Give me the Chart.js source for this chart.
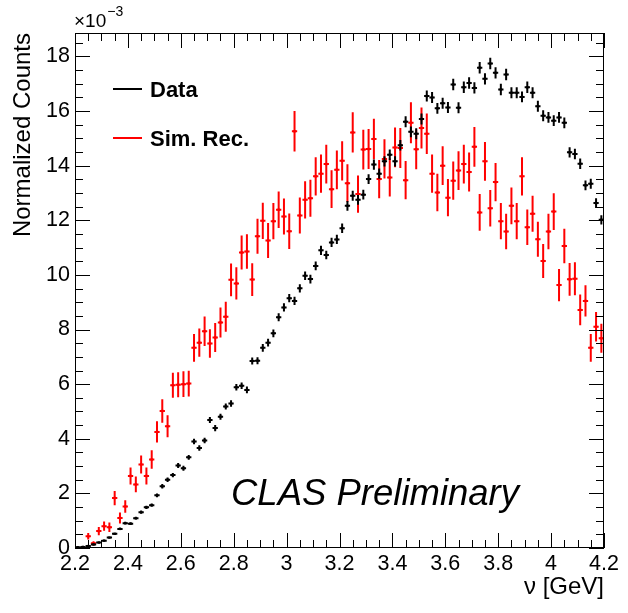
<!DOCTYPE html>
<html>
<head>
<meta charset="utf-8">
<script src="https://cdn.jsdelivr.net/npm/chart.js@4/dist/chart.umd.min.js"></script>
<style>
  html, body { margin: 0; padding: 0; background: #ffffff; }
  #c { display: block; }
</style>
</head>
<body>
<canvas id="c" width="628" height="613"></canvas>
<script>
// ---- bin centres (nu, GeV), 0.02 GeV bins from 2.2 to 4.2 ----
const nuBins = [
  2.21,2.23,2.25,2.27,2.29,2.31,2.33,2.35,2.37,2.39,
  2.41,2.43,2.45,2.47,2.49,2.51,2.53,2.55,2.57,2.59,
  2.61,2.63,2.65,2.67,2.69,2.71,2.73,2.75,2.77,2.79,
  2.81,2.83,2.85,2.87,2.89,2.91,2.93,2.95,2.97,2.99,
  3.01,3.03,3.05,3.07,3.09,3.11,3.13,3.15,3.17,3.19,
  3.21,3.23,3.25,3.27,3.29,3.31,3.33,3.35,3.37,3.39,
  3.41,3.43,3.45,3.47,3.49,3.51,3.53,3.55,3.57,3.59,
  3.61,3.63,3.65,3.67,3.69,3.71,3.73,3.75,3.77,3.79,
  3.81,3.83,3.85,3.87,3.89,3.91,3.93,3.95,3.97,3.99,
  4.01,4.03,4.05,4.07,4.09,4.11,4.13,4.15,4.17,4.19
];
const binHalfWidth = 0.01;

// ---- Data (x 10^-3) ----
const dataValues = [
  0.03,0.04,0.07,0.13,0.20,0.27,0.38,0.52,0.70,0.91,
  0.89,1.09,1.31,1.49,1.57,1.93,2.26,2.50,2.67,3.02,
  2.92,3.32,3.90,3.66,3.94,4.69,4.39,4.81,5.18,5.29,
  5.89,5.94,5.79,6.85,6.86,7.33,7.52,7.86,8.45,8.81,
  9.15,9.05,9.51,9.97,9.85,10.33,10.90,10.73,11.19,11.30,
  11.71,12.53,12.90,12.75,12.94,13.51,14.04,13.71,14.16,14.40,
  14.16,14.75,15.61,15.24,15.17,15.71,16.55,16.50,16.10,16.29,
  16.13,16.97,16.12,16.87,17.03,16.85,17.59,17.18,17.74,17.40,
  16.79,17.34,16.67,16.67,16.52,16.87,16.67,16.18,15.83,15.77,
  15.65,15.77,15.57,14.49,14.43,14.07,13.28,13.34,12.63,12.02
];
const dataErrors = [
  0.01,0.01,0.01,0.02,0.02,0.03,0.03,0.04,0.04,0.05,
  0.05,0.05,0.06,0.06,0.06,0.07,0.08,0.08,0.08,0.09,
  0.09,0.09,0.10,0.10,0.10,0.11,0.11,0.11,0.11,0.12,
  0.12,0.12,0.12,0.13,0.13,0.14,0.14,0.14,0.15,0.15,
  0.15,0.15,0.15,0.16,0.16,0.16,0.17,0.16,0.17,0.17,
  0.17,0.18,0.18,0.18,0.18,0.18,0.19,0.19,0.19,0.19,
  0.19,0.19,0.20,0.20,0.20,0.20,0.20,0.20,0.20,0.20,
  0.20,0.21,0.20,0.21,0.21,0.21,0.21,0.21,0.21,0.21,
  0.21,0.21,0.20,0.20,0.20,0.21,0.20,0.20,0.20,0.20,
  0.20,0.20,0.20,0.19,0.19,0.19,0.18,0.18,0.18,0.17
];

// ---- Sim. Rec. (x 10^-3) ----
const simValues = [
  null,null,0.43,0.17,0.62,0.80,0.76,1.83,1.10,1.52,
  2.64,2.33,3.06,2.64,3.24,4.25,5.02,4.46,5.96,5.98,
  6.00,6.02,7.33,7.52,7.94,7.49,7.71,8.26,8.47,9.82,
  9.69,10.82,10.86,9.83,11.42,11.98,11.26,11.97,12.39,12.14,
  11.60,15.26,12.18,12.75,12.81,13.61,13.71,14.06,13.14,13.85,
  14.18,13.36,15.22,12.96,14.59,14.61,14.98,13.51,14.25,13.57,
  14.67,14.65,13.47,15.57,14.60,15.38,15.17,13.71,13.02,14.00,
  12.83,13.45,13.82,14.06,13.77,14.69,12.29,14.16,12.44,13.40,
  11.97,11.59,12.53,11.97,13.61,11.75,12.24,11.31,10.51,11.59,
  12.32,9.63,11.06,9.84,9.86,8.72,9.05,7.33,8.10,7.68
];
const simErrors = [
  null,null,0.12,0.08,0.15,0.17,0.17,0.26,0.20,0.23,
  0.31,0.29,0.33,0.31,0.34,0.39,0.43,0.40,0.46,0.46,
  0.47,0.47,0.51,0.52,0.54,0.52,0.53,0.55,0.55,0.60,
  0.59,0.62,0.63,0.60,0.64,0.66,0.64,0.66,0.67,0.66,
  0.65,0.74,0.66,0.68,0.68,0.70,0.70,0.71,0.69,0.71,
  0.72,0.69,0.74,0.68,0.73,0.73,0.74,0.70,0.72,0.70,
  0.73,0.73,0.70,0.75,0.73,0.75,0.74,0.70,0.69,0.71,
  0.68,0.70,0.71,0.71,0.71,0.73,0.67,0.71,0.67,0.70,
  0.66,0.65,0.67,0.66,0.70,0.65,0.66,0.64,0.62,0.65,
  0.67,0.59,0.63,0.60,0.60,0.56,0.57,0.51,0.54,0.53
];

// ---- axis settings ----
const xMin = 2.2, xMax = 4.2, xMajor = 0.2, xMinor = 0.05;
const yMin = 0, yMax = 18.86, yMajor = 2, yMinor = 0.5;
const yTickLabels = [0,2,4,6,8,10,12,14,16,18];

const FONT = '"Liberation Sans", Arial, Helvetica, sans-serif';

function toPoints(vals) {
  return nuBins.map((x, i) => ({ x: x, y: vals[i] }));
}

const errorBarPlugin = {
  id: 'errorBars',
  beforeDatasetDraw(chart, args) {
    const ds = chart.data.datasets[args.index];
    const errs = ds.errors;
    if (!errs) return;
    const xs = chart.scales.x, ys = chart.scales.y;
    const ctx = chart.ctx;
    ctx.save();
    ctx.beginPath();
    ctx.rect(chart.chartArea.left, chart.chartArea.top,
             chart.chartArea.right - chart.chartArea.left,
             chart.chartArea.bottom - chart.chartArea.top);
    ctx.clip();
    ctx.strokeStyle = ds.borderColor;
    ctx.lineWidth = 2;
    ds.data.forEach((p, i) => {
      if (p.y === null || errs[i] === null) return;
      const px = xs.getPixelForValue(p.x);
      const py = ys.getPixelForValue(p.y);
      const y1 = ys.getPixelForValue(p.y - errs[i]);
      const y2 = ys.getPixelForValue(p.y + errs[i]);
      const x1 = xs.getPixelForValue(p.x - binHalfWidth);
      const x2 = xs.getPixelForValue(p.x + binHalfWidth);
      ctx.beginPath();
      ctx.moveTo(px, y1); ctx.lineTo(px, y2);
      ctx.moveTo(x1, py); ctx.lineTo(x2, py);
      ctx.stroke();
    });
    ctx.restore();
  }
};

const framePlugin = {
  id: 'rootFrame',
  afterDraw(chart) {
    const ctx = chart.ctx;
    const a = chart.chartArea;
    const xs = chart.scales.x, ys = chart.scales.y;
    ctx.save();
    ctx.strokeStyle = '#000000';
    ctx.lineWidth = 1;
    ctx.strokeRect(a.left + 0.5, a.top + 0.5, a.right - a.left - 1, a.bottom - a.top - 1);
    ctx.beginPath();
    const nx = Math.round((xMax - xMin) / xMinor);
    for (let k = 0; k <= nx; k++) {
      const v = xMin + k * xMinor;
      const px = Math.round(xs.getPixelForValue(v)) + 0.5;
      const len = (k % 4 === 0) ? 15 : 8;
      ctx.moveTo(px, a.bottom); ctx.lineTo(px, a.bottom - len);
      ctx.moveTo(px, a.top); ctx.lineTo(px, a.top + len);
    }
    const ny = Math.floor((yMax - yMin) / yMinor + 1e-6);
    for (let k = 0; k <= ny; k++) {
      const v = yMin + k * yMinor;
      const py = Math.round(ys.getPixelForValue(v)) + 0.5;
      const len = (k % 4 === 0) ? 15 : 8;
      ctx.moveTo(a.left, py); ctx.lineTo(a.left + len, py);
      ctx.moveTo(a.right, py); ctx.lineTo(a.right - len, py);
    }
    ctx.stroke();

    // exponent label
    ctx.fillStyle = '#000000';
    ctx.textBaseline = 'alphabetic';
    ctx.textAlign = 'left';
    ctx.font = '19px ' + FONT;
    ctx.fillText('\u00d710', a.left - 1, 27);
    const w = ctx.measureText('\u00d710').width;
    ctx.font = '14px ' + FONT;
    ctx.fillText('\u22123', a.left - 1 + w + 1, 16);

    // legend
    const legend = [
      { label: 'Data', color: '#000000', y: 89 },
      { label: 'Sim. Rec.', color: '#ff0000', y: 138 }
    ];
    legend.forEach(item => {
      ctx.strokeStyle = item.color;
      ctx.lineWidth = 2;
      ctx.beginPath();
      ctx.moveTo(113, item.y); ctx.lineTo(142, item.y);
      ctx.stroke();
      ctx.fillStyle = '#000000';
      ctx.font = 'bold 22px ' + FONT;
      ctx.textBaseline = 'middle';
      ctx.fillText(item.label, 150, item.y + 2);
    });

    // preliminary label
    ctx.font = 'italic 36.5px ' + FONT;
    ctx.textBaseline = 'alphabetic';
    ctx.fillStyle = '#000000';
    ctx.fillText('CLAS Preliminary', 231, 505);
    ctx.restore();
  }
};

new Chart(document.getElementById('c'), {
  type: 'scatter',
  data: {
    datasets: [
      {
        label: 'Data',
        data: toPoints(dataValues),
        errors: dataErrors,
        borderColor: '#000000',
        backgroundColor: '#000000',
        pointStyle: 'rect',
        pointRadius: 1.7,
        pointBorderWidth: 0
      },
      {
        label: 'Sim. Rec.',
        data: toPoints(simValues),
        errors: simErrors,
        borderColor: '#ff0000',
        backgroundColor: '#ff0000',
        pointStyle: 'rect',
        pointRadius: 1.7,
        pointBorderWidth: 0
      }
    ]
  },
  options: {
    responsive: false,
    animation: false,
    events: [],
    layout: { padding: { left: 0, right: 24, top: 33, bottom: 0 } },
    plugins: { legend: { display: false }, tooltip: { enabled: false } },
    scales: {
      x: {
        type: 'linear',
        min: xMin, max: xMax,
        grid: { display: false, drawTicks: false },
        border: { display: false },
        afterFit(s) { s.height = 65; },
        ticks: {
          stepSize: xMajor,
          includeBounds: false,
          autoSkip: false,
          maxRotation: 0,
          padding: 3,
          color: '#000000',
          font: { family: FONT, size: 21.5 },
          callback: v => String(Number(v.toFixed(1)))
        },
        title: {
          display: true,
          text: '\u03bd [GeV]',
          align: 'end',
          color: '#000000',
          font: { family: FONT, size: 24 },
          padding: { top: 0, bottom: 11 }
        }
      },
      y: {
        type: 'linear',
        min: yMin, max: yMax,
        grid: { display: false, drawTicks: false },
        border: { display: false },
        afterFit(s) { s.width = 75; },
        afterBuildTicks(s) { s.ticks = yTickLabels.map(v => ({ value: v })); },
        ticks: {
          stepSize: yMajor,
          includeBounds: false,
          autoSkip: false,
          padding: 5,
          color: '#000000',
          font: { family: FONT, size: 21.5 },
          callback: v => String(v)
        },
        title: {
          display: true,
          text: 'Normalized Counts',
          align: 'end',
          color: '#000000',
          font: { family: FONT, size: 24 },
          padding: { top: 9, bottom: 0 }
        }
      }
    }
  },
  plugins: [errorBarPlugin, framePlugin]
});
</script>
</body>
</html>
